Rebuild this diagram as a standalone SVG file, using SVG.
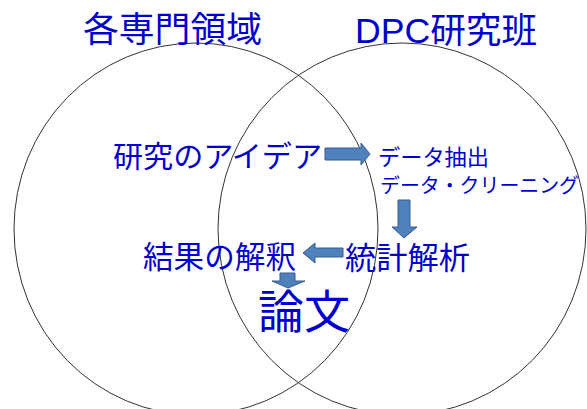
<svg xmlns="http://www.w3.org/2000/svg" width="587" height="409" viewBox="0 0 587 409">
<style>
.c{fill:none;stroke:#333;stroke-width:1}
.t{fill:#0000CC;font-family:"Liberation Sans","Noto Sans CJK JP",sans-serif}
.a{fill:#4F81BD;stroke:#385D8A;stroke-width:1}
</style>
<rect width="587" height="409" fill="#fff"/>
<g id="circle-left"><ellipse class="c" cx="196" cy="229" rx="182" ry="186"/></g>
<g id="circle-right"><ellipse class="c" cx="402" cy="229" rx="184" ry="186"/></g>
<g id="title-left"><text class="t" x="83" y="42" font-size="35" textLength="179" lengthAdjust="spacingAndGlyphs">各専門領域</text></g>
<g id="title-right"><text class="t" x="355" y="43" font-size="35" textLength="182" lengthAdjust="spacingAndGlyphs">DPC研究班</text></g>
<g id="idea"><text class="t" x="113" y="167" font-size="29.5" textLength="209" lengthAdjust="spacingAndGlyphs">研究のアイデア</text></g>
<g id="extract"><text class="t" x="378" y="165" font-size="22" textLength="111" lengthAdjust="spacingAndGlyphs">データ抽出</text><text class="t" x="380" y="193" font-size="20.5" textLength="199" lengthAdjust="spacingAndGlyphs">データ・クリーニング</text></g>
<g id="stats"><text class="t" x="345" y="269" font-size="31" textLength="125" lengthAdjust="spacingAndGlyphs">統計解析</text></g>
<g id="interpret"><text class="t" x="143" y="268" font-size="30.5" textLength="153" lengthAdjust="spacingAndGlyphs">結果の解釈</text></g>
<g id="paper"><text class="t" x="258" y="328" font-size="46" textLength="92" lengthAdjust="spacingAndGlyphs">論文</text></g>
<g id="connectors">
<path class="a" d="M325 148 H361 V143 L370 154 L361 165 V160 H325 Z"/>
<path class="a" d="M398 200 H410 V227 H417 L404 238 L392 227 H398 Z"/>
<path class="a" d="M343 248 H315 V243 L303 253 L315 263 V257 H343 Z"/>
<path class="a" d="M280 273 H295 V281 H305 L288 288 L272 281 H280 Z"/>
</g>
</svg>
